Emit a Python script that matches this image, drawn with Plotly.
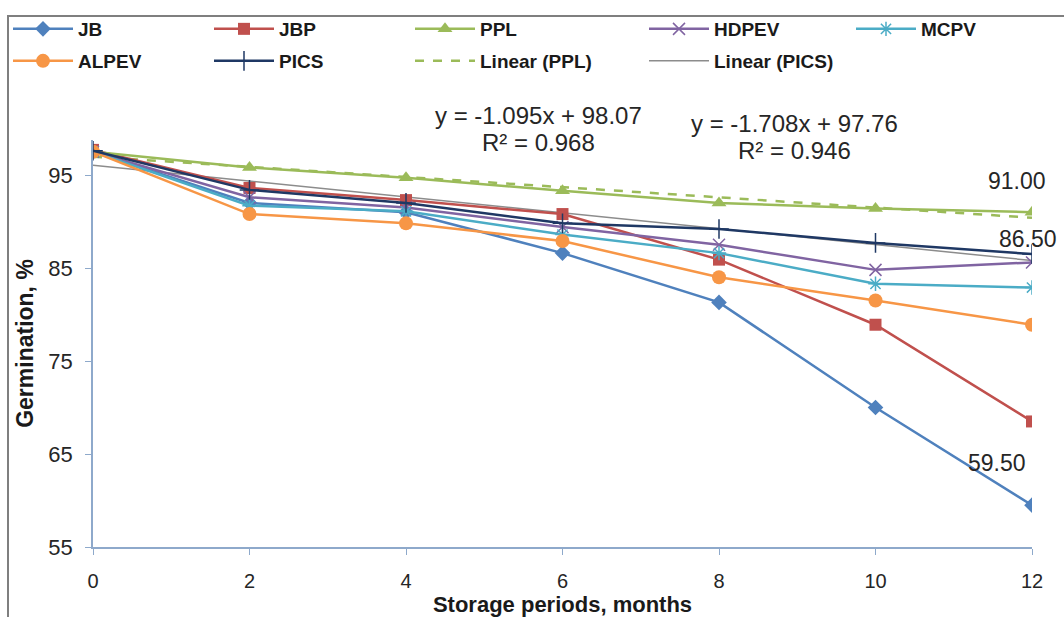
import plotly.graph_objects as go

months = [0, 2, 4, 6, 8, 10, 12]

jb = [97.5, 92.0, 91.0, 86.6, 81.3, 70.0, 59.5]
jbp = [97.7, 93.6, 92.3, 90.8, 85.9, 78.9, 68.5]
ppl = [97.5, 95.8, 94.7, 93.3, 92.0, 91.4, 91.0]
hdpev = [97.5, 92.6, 91.5, 89.4, 87.5, 84.8, 85.6]
mcpv = [97.5, 91.7, 91.1, 88.6, 86.6, 83.3, 82.9]
alpev = [97.5, 90.8, 89.8, 87.9, 84.0, 81.5, 78.9]
pics = [97.6, 93.4, 92.0, 89.8, 89.2, 87.7, 86.5]

# Excel trendlines (x = point index 1..7)
ppl_slope, ppl_intercept, ppl_r2 = -1.095, 98.07, 0.968
pics_slope, pics_intercept, pics_r2 = -1.708, 97.76, 0.946

idx = list(range(1, len(months) + 1))
lin_ppl = [ppl_slope * i + ppl_intercept for i in idx]
lin_pics = [pics_slope * i + pics_intercept for i in idx]

FONT = "Liberation Sans, Arial, sans-serif"

fig = go.Figure()

def add(name, y, color, symbol, size, legend, rank, width=2.5, dash="solid", mode="lines+markers", mline=None):
    marker = dict(symbol=symbol, size=size, color=color)
    if mline:
        marker["line"] = dict(color=color, width=mline)
    fig.add_trace(go.Scatter(
        x=months, y=y, name=name, mode=mode,
        line=dict(color=color, width=width, dash=dash),
        marker=marker, legend=legend, legendrank=rank,
    ))

# trendlines first so that they sit behind the data series
add("Linear (PPL)", lin_ppl, "#9BBB59", "circle", 1, "legend2", 3, width=2.5, dash="dash", mode="lines")
add("Linear (PICS)", lin_pics, "#8C8C8C", "circle", 1, "legend4", 1, width=1.5, mode="lines")
add("JB", jb, "#4F81BD", "diamond", 12, "legend", 1)
add("JBP", jbp, "#C0504D", "square", 12, "legend", 2)
add("PPL", ppl, "#9BBB59", "triangle-up", 13, "legend", 3)
add("HDPEV", hdpev, "#8064A2", "x-thin", 12, "legend3", 1, mline=1.5)
add("MCPV", mcpv, "#4BACC6", "asterisk", 12, "legend3", 2, mline=1.5)
add("ALPEV", alpev, "#F79646", "circle", 14, "legend2", 1)
add("PICS", pics, "#1F3864", "cross-thin", 14, "legend2", 2, mline=1.5)

# plot area geometry
L, R, T, B = 93, 32, 140, 70
W, H = 1064, 617
pw, ph = W - L - R, H - T - B

def px(xpix):
    return (xpix - L) / pw

def py(ypix):
    return (H - B - ypix) / ph

# data labels on last points
labels = [("91.00", ppl[-1], -15, 31), ("86.50", pics[-1], -4, 15), ("59.50", jb[-1], -35, 42)]
for txt, yv, xs, ys in labels:
    fig.add_annotation(x=months[-1], y=yv, text=txt, showarrow=False, xshift=xs, yshift=ys,
                       font=dict(family=FONT, size=23, color="#262626"))

eqs = [
    (f"y = {ppl_slope:.3f}x + {ppl_intercept:.2f}", 538, 115),
    (f"R² = {ppl_r2:.3f}", 538, 142),
    (f"y = {pics_slope:.3f}x + {pics_intercept:.2f}", 794, 124),
    (f"R² = {pics_r2:.3f}", 794, 151),
]
for txt, xp, yp in eqs:
    fig.add_annotation(xref="paper", yref="paper", x=px(xp), y=py(yp), text=txt, showarrow=False,
                       xanchor="center", yanchor="middle",
                       font=dict(family=FONT, size=24, color="#262626"))

# chart frame (partially outside view)
fig.add_shape(type="rect", xref="paper", yref="paper", x0=px(8), x1=px(1100), y0=py(650), y1=py(16),
              line=dict(color="#7F7F7F", width=2), fillcolor="rgba(0,0,0,0)", layer="below")

def leg(xpix, ypix, ew):
    return dict(orientation="h", xanchor="left", yanchor="middle", x=px(xpix), y=py(ypix),
                font=dict(family=FONT, size=19, color="#1a1a1a", weight="bold"),
                bgcolor="rgba(0,0,0,0)", entrywidth=ew, entrywidthmode="pixels",
                itemwidth=60, tracegroupgap=0, traceorder="normal")

fig.update_layout(
    width=W, height=H,
    margin=dict(l=L, r=R, t=T, b=B, autoexpand=False),
    paper_bgcolor="white", plot_bgcolor="white",
    font=dict(family=FONT, color="#262626"),
    legend=leg(8, 29, 126),
    legend2=leg(8, 61, 126),
    legend3=leg(644, 29, 132),
    legend4=leg(644, 61, 132),
    xaxis=dict(range=[0, 12], tickvals=months, ticktext=[str(m) for m in months],
               showgrid=False, zeroline=False, showline=True, linecolor="#8EA9CB", linewidth=1.5,
               ticks="outside", ticklen=6, tickcolor="#8EA9CB", automargin=False,
               ticklabelstandoff=9,
               tickfont=dict(family=FONT, size=20, color="#262626"),
               title=dict(text="<b>Storage periods, months</b>", standoff=2,
                          font=dict(family=FONT, size=22, color="#1a1a1a"))),
    yaxis=dict(range=[55, 55 + 407 / 9.3], tickvals=[55, 65, 75, 85, 95],
               showgrid=False, zeroline=False, showline=True, linecolor="#8EA9CB", linewidth=1.5,
               ticks="outside", ticklen=6, tickcolor="#8EA9CB", automargin=False,
               ticklabelstandoff=8,
               tickfont=dict(family=FONT, size=22, color="#262626"),
               title=dict(text="<b>Germination, %</b>", standoff=8,
                          font=dict(family=FONT, size=23, color="#1a1a1a"))),
)

fig.write_html("out.html")
